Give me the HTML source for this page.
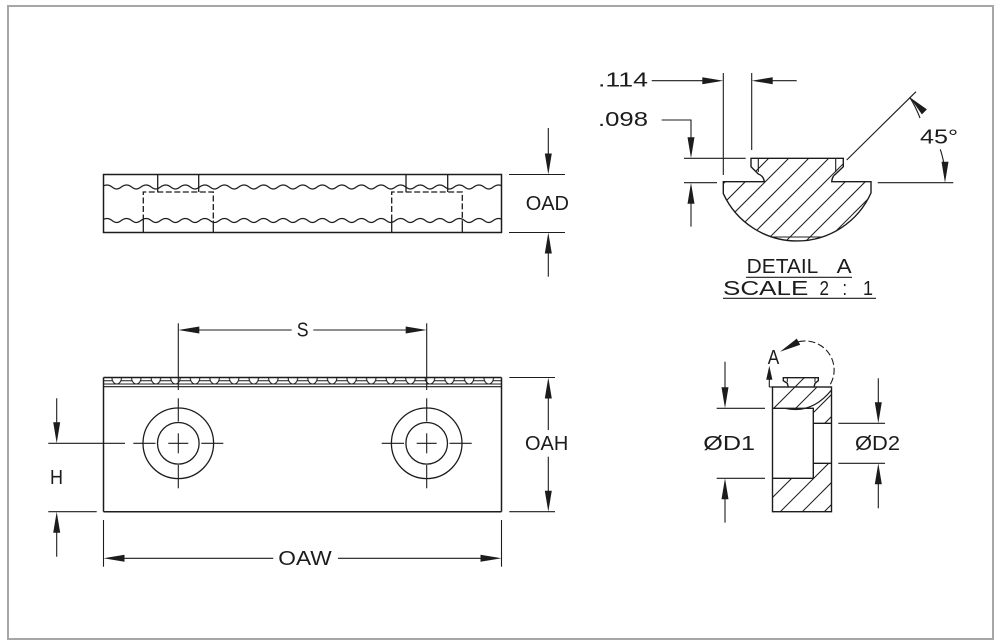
<!DOCTYPE html>
<html><head><meta charset="utf-8"><style>
html,body{margin:0;padding:0;background:#fff;}
svg{display:block;}
text{font-family:"Liberation Sans",sans-serif;font-size:20px;fill:#1c1c1c;}
</style></head><body>
<svg width="1001" height="644" viewBox="0 0 1001 644" xmlns="http://www.w3.org/2000/svg">
<defs>
<pattern id="wave1" patternUnits="userSpaceOnUse" x="106.91" y="183" width="19.58" height="8">
<path d="M0,2 C5,2 5.5,6 9.79,6 C14,6 14.6,2 19.58,2" fill="none" stroke="#1c1c1c" stroke-width="1.2"/>
</pattern>
<pattern id="wave2" patternUnits="userSpaceOnUse" x="106.91" y="216.5" width="19.58" height="8">
<path d="M0,2 C5,2 5.5,6 9.79,6 C14,6 14.6,2 19.58,2" fill="none" stroke="#1c1c1c" stroke-width="1.2"/>
</pattern>
<pattern id="bead" patternUnits="userSpaceOnUse" x="106.91" y="377" width="19.58" height="9">
<line x1="0" y1="3.7" x2="19.58" y2="3.7" stroke="#1c1c1c" stroke-width="1"/>
<path d="M5,0.5 A4.8,6.5 0 0 0 14.6,0.5 Z" fill="#fff" stroke="#1c1c1c" stroke-width="1"/>
</pattern>
<clipPath id="clipA">
<path d="M751,158.3 L843.3,158.3 L843.3,166.7 L835.7,174 Q832.3,176 831.7,181.7 L871,181.7 L871,192.9 A81,81 0 0 1 723.3,193.6 L723.3,181.7 L764.3,181.7 Q763.7,176 758.3,174 L751,166.7 Z"/>
</clipPath>
<clipPath id="clipS">
<path d="M772.5,387 L788.3,387 L787.3,383.3 L783.3,380.7 L783.3,377.7 L818.3,377.7 L818.3,380.7 L815,383.3 L814,387 L831.5,387 L831.5,423.3 L813.3,423.3 L813.3,408.3 L772.5,408.3 Z M813.3,463.3 L831.5,463.3 L831.5,511.7 L772.5,511.7 L772.5,478.3 L813.3,478.3 Z"/>
</clipPath>
</defs>

<rect x="0" y="0" width="1001" height="644" fill="#fff"/>
<rect x="8" y="6" width="985" height="633" fill="none" stroke="#a6a6a6" stroke-width="2"/>

<g stroke="#1c1c1c" fill="none" stroke-width="1.5">
<rect x="103.5" y="174.5" width="398" height="58"/>
</g>
<rect x="103.5" y="183" width="398" height="8" fill="url(#wave1)"/>
<rect x="103.5" y="216.5" width="398" height="8" fill="url(#wave2)"/>
<g stroke="#1c1c1c" fill="none" stroke-width="1.3">
<line x1="157.7" y1="174.5" x2="157.7" y2="192"/>
<line x1="198.7" y1="174.5" x2="198.7" y2="192"/>
<line x1="406" y1="174.5" x2="406" y2="192"/>
<line x1="447.7" y1="174.5" x2="447.7" y2="192"/>
<line x1="143.3" y1="220.5" x2="143.3" y2="232.5"/>
<line x1="213.3" y1="220.5" x2="213.3" y2="232.5"/>
<line x1="391.7" y1="220.5" x2="391.7" y2="232.5"/>
<line x1="462.3" y1="220.5" x2="462.3" y2="232.5"/>
</g>
<g stroke="#1c1c1c" fill="none" stroke-width="1.3" stroke-dasharray="6 2.5">
<path d="M143.3,220.5 L143.3,192 L213.3,192 L213.3,220.5"/>
<path d="M391.7,220.5 L391.7,192 L462.3,192 L462.3,220.5"/>
</g>

<g stroke="#1c1c1c" stroke-width="1.1" fill="none">
<line x1="509" y1="174.5" x2="565" y2="174.5"/>
<line x1="509" y1="232.5" x2="565" y2="232.5"/>
<line x1="548.3" y1="128" x2="548.3" y2="160"/>
<line x1="548.3" y1="245" x2="548.3" y2="276.7"/>
</g>
<g fill="#1c1c1c">
<polygon points="548.3,174.5 544.8,153.5 551.8,153.5"/>
<polygon points="548.3,232.5 544.8,253.5 551.8,253.5"/>
</g>
<text x="525.7" y="210" textLength="43.3" lengthAdjust="spacingAndGlyphs">OAD</text>

<rect x="103.5" y="377" width="398" height="9" fill="url(#bead)"/>
<g stroke="#1c1c1c" fill="none" stroke-width="1.5">
<line x1="103.5" y1="377.5" x2="501.5" y2="377.5"/>
<line x1="103.5" y1="384" x2="501.5" y2="384" stroke-width="1.1"/>
<line x1="103.5" y1="386.7" x2="501.5" y2="386.7" stroke-width="1.1"/>
<line x1="103.5" y1="377.5" x2="103.5" y2="511.7"/>
<line x1="501.5" y1="377.5" x2="501.5" y2="511.7"/>
<line x1="103.5" y1="511.7" x2="501.5" y2="511.7"/>
<circle cx="178.3" cy="443.3" r="35.3" stroke-width="1.3"/>
<circle cx="178.3" cy="443.3" r="20.8" stroke-width="1.3"/>
<circle cx="426.7" cy="443.3" r="35.3" stroke-width="1.3"/>
<circle cx="426.7" cy="443.3" r="20.8" stroke-width="1.3"/>
</g>
<g stroke="#1c1c1c" fill="none" stroke-width="1.1">
<line x1="133.3" y1="443.3" x2="155.5" y2="443.3"/>
<line x1="168.3" y1="443.3" x2="188.3" y2="443.3"/>
<line x1="201.3" y1="443.3" x2="223.3" y2="443.3"/>
<line x1="178.3" y1="323.3" x2="178.3" y2="390"/>
<line x1="178.3" y1="398.3" x2="178.3" y2="421.5"/>
<line x1="178.3" y1="433.3" x2="178.3" y2="453.3"/>
<line x1="178.3" y1="465" x2="178.3" y2="488.3"/>
<line x1="381.7" y1="443.3" x2="404" y2="443.3"/>
<line x1="416.7" y1="443.3" x2="436.7" y2="443.3"/>
<line x1="449.5" y1="443.3" x2="471.7" y2="443.3"/>
<line x1="426.7" y1="323.3" x2="426.7" y2="390"/>
<line x1="426.7" y1="398.3" x2="426.7" y2="421.5"/>
<line x1="426.7" y1="433.3" x2="426.7" y2="453.3"/>
<line x1="426.7" y1="465" x2="426.7" y2="488.3"/>
<line x1="48.3" y1="443.3" x2="125" y2="443.3"/>
<line x1="48.3" y1="511.7" x2="96.7" y2="511.7"/>
<line x1="56.7" y1="398.3" x2="56.7" y2="430"/>
<line x1="56.7" y1="525" x2="56.7" y2="556.7"/>
<line x1="190" y1="330" x2="291.7" y2="330"/>
<line x1="313.3" y1="330" x2="415" y2="330"/>
<line x1="509.3" y1="377.5" x2="555" y2="377.5"/>
<line x1="509.3" y1="511.7" x2="555" y2="511.7"/>
<line x1="548.3" y1="390" x2="548.3" y2="430"/>
<line x1="548.3" y1="456.7" x2="548.3" y2="500"/>
<line x1="103.5" y1="520" x2="103.5" y2="566.7"/>
<line x1="501.5" y1="520" x2="501.5" y2="566.7"/>
<line x1="115" y1="558.3" x2="273.3" y2="558.3"/>
<line x1="338" y1="558.3" x2="490" y2="558.3"/>
</g>
<g fill="#1c1c1c">
<polygon points="178.3,330 199.3,326.5 199.3,333.5"/>
<polygon points="426.7,330 405.7,326.5 405.7,333.5"/>
<polygon points="56.7,443.3 53.2,422.3 60.2,422.3"/>
<polygon points="56.7,511.7 53.2,532.7 60.2,532.7"/>
<polygon points="548.3,377.5 544.8,398.5 551.8,398.5"/>
<polygon points="548.3,511.7 544.8,490.7 551.8,490.7"/>
<polygon points="103.5,558.3 124.5,554.8 124.5,561.8"/>
<polygon points="501.5,558.3 480.5,554.8 480.5,561.8"/>
</g>
<text x="296.7" y="336.7" textLength="11.8" lengthAdjust="spacingAndGlyphs">S</text>
<text x="50" y="484" textLength="13" lengthAdjust="spacingAndGlyphs">H</text>
<text x="525" y="450" textLength="43.3" lengthAdjust="spacingAndGlyphs">OAH</text>
<text x="278.3" y="565" textLength="53.4" lengthAdjust="spacingAndGlyphs">OAW</text>

<g clip-path="url(#clipA)" stroke="#1c1c1c" stroke-width="1">
<line x1="637" y1="250" x2="737" y2="150"/>
<line x1="657" y1="250" x2="757" y2="150"/>
<line x1="677" y1="250" x2="777" y2="150"/>
<line x1="697" y1="250" x2="797" y2="150"/>
<line x1="717" y1="250" x2="817" y2="150"/>
<line x1="737" y1="250" x2="837" y2="150"/>
<line x1="757" y1="250" x2="857" y2="150"/>
<line x1="777" y1="250" x2="877" y2="150"/>
<line x1="797" y1="250" x2="897" y2="150"/>
<line x1="817" y1="250" x2="917" y2="150"/>
<line x1="837" y1="250" x2="937" y2="150"/>
<line x1="857" y1="250" x2="957" y2="150"/>
</g>
<g stroke="#1c1c1c" fill="none" stroke-width="1.4">
<path d="M751,158.3 L843.3,158.3 L843.3,166.7 L835.7,174 Q832.3,176 831.7,181.7 L871,181.7 L871,192.9 A81,81 0 0 1 723.3,193.6 L723.3,181.7 L764.3,181.7 Q763.7,176 758.3,174 L751,166.7 Z"/>
<line x1="758.3" y1="158.3" x2="758.3" y2="172" stroke-width="1.1"/>
<line x1="835.7" y1="158.3" x2="835.7" y2="172" stroke-width="1.1"/>
<line x1="772" y1="237" x2="822" y2="237" stroke-width="1.1"/>
</g>
<g stroke="#1c1c1c" fill="none" stroke-width="1.1">
<line x1="651.7" y1="80.7" x2="705" y2="80.7"/>
<line x1="770" y1="80.7" x2="796.7" y2="80.7"/>
<line x1="723.3" y1="73" x2="723.3" y2="175"/>
<line x1="751.7" y1="73" x2="751.7" y2="150"/>
<path d="M661.7,120 L691,120 L691,140"/>
<line x1="684" y1="158.3" x2="745.7" y2="158.3"/>
<line x1="684" y1="182.7" x2="717" y2="182.7"/>
<line x1="691" y1="200" x2="691" y2="226.7"/>
<line x1="846.7" y1="160" x2="916" y2="91.7"/>
<line x1="877.7" y1="182.7" x2="953.3" y2="182.7"/>
<path d="M920,118 A121,121 0 0 0 909.6,97.1"/>
<path d="M940.3,149.3 A121,121 0 0 1 945,170"/>
<line x1="746" y1="277.3" x2="852" y2="277.3"/>
<line x1="723" y1="298.3" x2="876" y2="298.3"/>
</g>
<g fill="#1c1c1c">
<polygon points="723.3,80.7 702.3,77.2 702.3,84.2"/>
<polygon points="751.7,80.7 772.7,77.2 772.7,84.2"/>
<polygon points="691,158.3 687.5,137.3 694.5,137.3"/>
<polygon points="691,182.7 687.5,203.7 694.5,203.7"/>
<polygon points="909.6,97.1 926.9,109.4 921.9,114.4"/>
<polygon points="945,182.7 941.5,161.7 948.5,161.7"/>
</g>
<text x="598" y="86.7" textLength="50" lengthAdjust="spacingAndGlyphs">.114</text>
<text x="598" y="126" textLength="50" lengthAdjust="spacingAndGlyphs">.098</text>
<text x="920" y="143.3" textLength="38" lengthAdjust="spacingAndGlyphs">45°</text>
<text x="746.7" y="273" textLength="71.6" lengthAdjust="spacingAndGlyphs">DETAIL</text>
<text x="836.7" y="273" textLength="15" lengthAdjust="spacingAndGlyphs">A</text>
<text x="723" y="295" textLength="85.3" lengthAdjust="spacingAndGlyphs">SCALE</text>
<text x="819.5" y="295" textLength="9.5" lengthAdjust="spacingAndGlyphs">2</text>
<text x="842.5" y="295" textLength="4.5" lengthAdjust="spacingAndGlyphs">:</text>
<text x="863" y="295" textLength="10" lengthAdjust="spacingAndGlyphs">1</text>

<g clip-path="url(#clipS)" stroke="#1c1c1c" stroke-width="1">
<line x1="640" y1="520" x2="790" y2="370"/>
<line x1="662" y1="520" x2="812" y2="370"/>
<line x1="684" y1="520" x2="834" y2="370"/>
<line x1="706" y1="520" x2="856" y2="370"/>
<line x1="728" y1="520" x2="878" y2="370"/>
<line x1="750" y1="520" x2="900" y2="370"/>
<line x1="772" y1="520" x2="922" y2="370"/>
<line x1="794" y1="520" x2="944" y2="370"/>
<line x1="816" y1="520" x2="966" y2="370"/>
</g>
<g stroke="#1c1c1c" fill="none" stroke-width="1.4">
<rect x="772.5" y="387" width="59" height="124.7"/>
<path d="M788.3,387 L787.3,383.3 L783.3,380.7 L783.3,377.7 L818.3,377.7 L818.3,380.7 L815,383.3 L814,387"/>
<path d="M772.5,408.3 L813.3,408.3 L813.3,478.3 L772.5,478.3"/>
<line x1="813.3" y1="423.3" x2="831.5" y2="423.3"/>
<line x1="813.3" y1="463.3" x2="831.5" y2="463.3"/>
<path d="M831.5,390 Q812,414 786,408.5" stroke-width="1.2"/>
<line x1="787.3" y1="377.7" x2="787.3" y2="382" stroke-width="1"/>
<line x1="815" y1="377.7" x2="815" y2="382" stroke-width="1"/>
</g>
<g stroke="#1c1c1c" fill="none" stroke-width="1.1">
<path d="M798.5,341.7 A29,29 0 0 1 828.2,387.5" stroke-dasharray="7 3"/>
<line x1="769.3" y1="378" x2="769.3" y2="387"/>
<line x1="769.3" y1="387" x2="772.5" y2="387"/>
<line x1="716.7" y1="408.3" x2="765" y2="408.3"/>
<line x1="716.7" y1="478.3" x2="765" y2="478.3"/>
<line x1="725" y1="361.7" x2="725" y2="395"/>
<line x1="725" y1="490" x2="725" y2="522.7"/>
<line x1="838.3" y1="423.3" x2="885" y2="423.3"/>
<line x1="838.3" y1="463.3" x2="885" y2="463.3"/>
<line x1="878.3" y1="378.3" x2="878.3" y2="410"/>
<line x1="878.3" y1="475" x2="878.3" y2="508.3"/>
</g>
<g fill="#1c1c1c">
<polygon points="780,351.7 796.8,338.6 800.2,344.8"/>
<polygon points="769.3,365.7 766.2,379.7 772.4,379.7"/>
<polygon points="725,408.3 721.5,387.3 728.5,387.3"/>
<polygon points="725,478.3 721.5,499.3 728.5,499.3"/>
<polygon points="878.3,423.3 874.8,402.3 881.8,402.3"/>
<polygon points="878.3,463.3 874.8,484.3 881.8,484.3"/>
</g>
<text x="767.8" y="364" textLength="11.5" lengthAdjust="spacingAndGlyphs">A</text>
<text x="703.3" y="450" textLength="51.7" lengthAdjust="spacingAndGlyphs">ØD1</text>
<text x="855" y="450" textLength="45" lengthAdjust="spacingAndGlyphs">ØD2</text>
</svg>
</body></html>
